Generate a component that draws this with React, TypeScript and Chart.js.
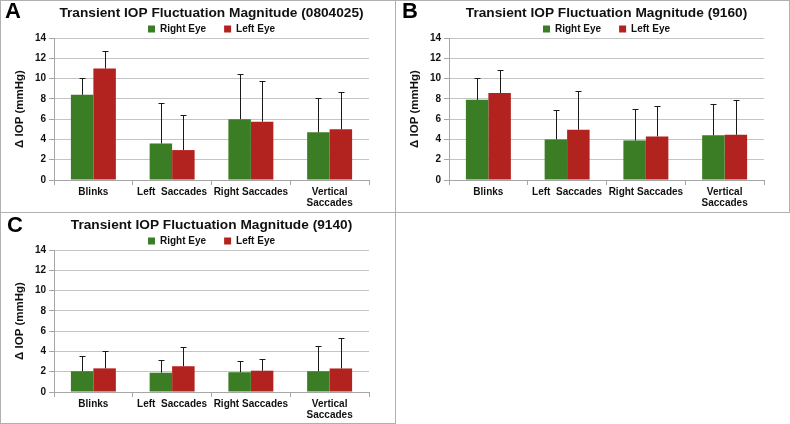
import React, { useEffect, useRef } from 'react';
import { Chart, registerables } from 'chart.js';

Chart.register(...registerables);

const CATEGORIES: (string | string[])[] = ['Blinks', 'Left  Saccades', 'Right Saccades', ['Vertical', 'Saccades']];
const SERIES = ['Right Eye', 'Left Eye'];
const Y_MIN = 0;
const Y_MAX = 14;
const Y_STEP = 2;

// Panel A (0804025)
const A_RIGHT = [8.4, 3.6, 6.0, 4.7];
const A_RIGHT_ERR = [1.65, 3.95, 4.45, 3.4];
const A_LEFT = [11.0, 2.95, 5.75, 5.0];
const A_LEFT_ERR = [1.7, 3.45, 4.0, 3.7];

// Panel B (9160)
const B_RIGHT = [7.9, 4.0, 3.9, 4.4];
const B_RIGHT_ERR = [2.2, 2.9, 3.12, 3.08];
const B_LEFT = [8.57, 4.96, 4.3, 4.46];
const B_LEFT_ERR = [2.26, 3.77, 2.96, 3.45];

// Panel C (9140)
const C_RIGHT = [2.05, 1.9, 1.95, 2.05];
const C_RIGHT_ERR = [1.48, 1.3, 1.06, 2.52];
const C_LEFT = [2.33, 2.54, 2.1, 2.32];
const C_LEFT_ERR = [1.74, 1.85, 1.11, 3.05];

const GREEN = '#3a7d24';
const RED = '#b2221e';
const FONT = "'Liberation Sans', Arial, sans-serif";
const GRID = '#c4c4c4';
const AXIS = '#a6a6a6';
const TEXT = '#111111';

const errorBarsPlugin = {
  id: 'errorBars',
  afterDatasetsDraw(chart: any) {
    const ctx = chart.ctx;
    const yScale = chart.scales.y;
    chart.data.datasets.forEach((ds: any, i: number) => {
      const meta = chart.getDatasetMeta(i);
      meta.data.forEach((bar: any, j: number) => {
        const v = ds.data[j];
        const e = ds.errors[j];
        const yTop = yScale.getPixelForValue(v + e);
        const yBase = yScale.getPixelForValue(v);
        const x = Math.round(bar.x) + 0.5;
        ctx.save();
        ctx.strokeStyle = '#1a1a1a';
        ctx.lineWidth = 1;
        ctx.beginPath();
        ctx.moveTo(x, yBase);
        ctx.lineTo(x, Math.round(yTop) + 0.5);
        ctx.moveTo(x - 3, Math.round(yTop) + 0.5);
        ctx.lineTo(x + 3, Math.round(yTop) + 0.5);
        ctx.stroke();
        ctx.restore();
      });
    });
  },
};

type PanelProps = {
  left: number;
  top: number;
  title: string;
  right: number[];
  rightErr: number[];
  leftVals: number[];
  leftErr: number[];
};

function Panel({ left, top, title, right, rightErr, leftVals, leftErr }: PanelProps) {
  const ref = useRef<HTMLCanvasElement | null>(null);
  useEffect(() => {
    if (!ref.current) return;
    const chart = new Chart(ref.current, {
      type: 'bar',
      data: {
        labels: CATEGORIES as any,
        datasets: [
          {
            label: SERIES[0],
            data: right,
            errors: rightErr,
            backgroundColor: GREEN,
            borderWidth: 0,
            categoryPercentage: 0.571,
            barPercentage: 1,
          } as any,
          {
            label: SERIES[1],
            data: leftVals,
            errors: leftErr,
            backgroundColor: RED,
            borderWidth: 0,
            categoryPercentage: 0.571,
            barPercentage: 1,
          } as any,
        ],
      },
      options: {
        responsive: false,
        animation: false,
        devicePixelRatio: 1,
        layout: { padding: { left: 0, right: 26, top: 0, bottom: 0 } },
        plugins: {
          tooltip: { enabled: false },
          title: {
            display: true,
            text: title,
            fullSize: false,
            color: TEXT,
            font: { family: FONT, size: 13.7, weight: 'bold', lineHeight: 1 },
            padding: { top: 6, bottom: -13.7 },
          },
          legend: {
            display: true,
            fullSize: false,
            maxHeight: 32,
            labels: {
              boxWidth: 7,
              boxHeight: 7,
              padding: 18,
              color: TEXT,
              font: { family: FONT, size: 10, weight: 'bold' },
            },
          },
        },
        scales: {
          x: {
            grid: {
              display: true,
              drawOnChartArea: false,
              drawTicks: true,
              tickLength: 5,
              tickColor: AXIS,
              offset: true,
            },
            border: { display: true, color: AXIS, width: 1 },
            ticks: {
              color: TEXT,
              font: { family: FONT, size: 10, weight: 'bold', lineHeight: 1.1 },
              padding: 1.5,
              maxRotation: 0,
              autoSkip: false,
            },
            afterFit(scale: any) {
              scale.height = 32;
            },
          },
          y: {
            min: Y_MIN,
            max: Y_MAX,
            ticks: {
              stepSize: Y_STEP,
              color: TEXT,
              font: { family: FONT, size: 10, weight: 'bold' },
              padding: 3,
            },
            grid: {
              color: GRID,
              tickColor: AXIS,
              tickLength: 5,
              drawTicks: true,
            },
            border: { display: true, color: AXIS, width: 1 },
            title: {
              display: true,
              text: 'Δ IOP (mmHg)',
              color: TEXT,
              font: { family: FONT, size: 11.5, weight: 'bold', lineHeight: 1.2 },
              padding: { top: 13, bottom: 0 },
            },
            afterFit(scale: any) {
              scale.width = 54;
            },
          },
        },
      } as any,
      plugins: [errorBarsPlugin],
    });
    return () => chart.destroy();
  }, []);
  return (
    <canvas
      ref={ref}
      width={395}
      height={212}
      style={{ position: 'absolute', left, top, width: 395, height: 212 }}
    />
  );
}

const letterStyle: React.CSSProperties = {
  position: 'absolute',
  fontFamily: FONT,
  fontWeight: 'bold',
  fontSize: 22,
  lineHeight: '22px',
  color: '#000',
};

const boxStyle = (l: number, t: number, w: number, h: number): React.CSSProperties => ({
  position: 'absolute',
  left: l,
  top: t,
  width: w,
  height: h,
  border: '1px solid #b0b0b0',
  boxSizing: 'border-box',
});

export default function App() {
  return (
    <div
      style={{
        position: 'fixed',
        left: 0,
        top: 0,
        width: 790,
        height: 424,
        background: '#ffffff',
        overflow: 'hidden',
      }}
    >
      <div style={boxStyle(0, 0, 396, 213)} />
      <div style={boxStyle(395, 0, 395, 213)} />
      <div style={boxStyle(0, 212, 396, 212)} />
      <Panel left={0} top={0} title="Transient IOP Fluctuation Magnitude (0804025)" right={A_RIGHT} rightErr={A_RIGHT_ERR} leftVals={A_LEFT} leftErr={A_LEFT_ERR} />
      <Panel left={395} top={0} title="Transient IOP Fluctuation Magnitude (9160)" right={B_RIGHT} rightErr={B_RIGHT_ERR} leftVals={B_LEFT} leftErr={B_LEFT_ERR} />
      <Panel left={0} top={212} title="Transient IOP Fluctuation Magnitude (9140)" right={C_RIGHT} rightErr={C_RIGHT_ERR} leftVals={C_LEFT} leftErr={C_LEFT_ERR} />
      <div style={{ ...letterStyle, left: 5, top: 0 }}>A</div>
      <div style={{ ...letterStyle, left: 402, top: 0 }}>B</div>
      <div style={{ ...letterStyle, left: 7, top: 214 }}>C</div>
    </div>
  );
}
